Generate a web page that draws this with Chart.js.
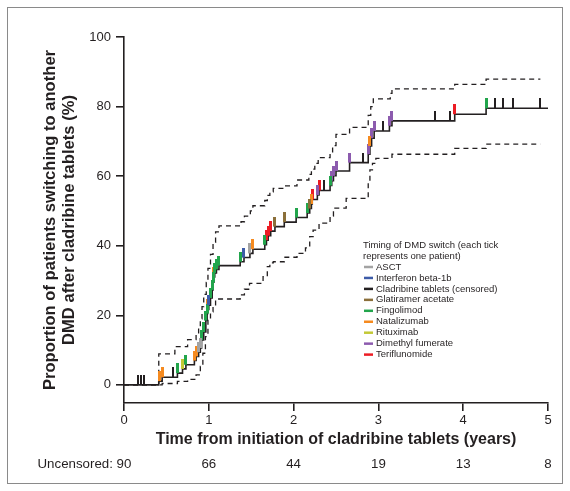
<!DOCTYPE html>
<html lang="en">
<head>
    <meta charset="UTF-8">
    <title>Switching DMD after cladribine tablets</title>
    <script src="https://cdn.jsdelivr.net/npm/chart.js@4.4.0/dist/chart.umd.min.js"></script>
    <style>
        html, body { margin: 0; padding: 0; background: #fff; }
        #wrap { width: 570px; height: 491px; }
    </style>
</head>
<body>
    <div id="wrap"><canvas id="kmChart" width="570" height="491"></canvas></div>

    <script>
        // Kaplan-Meier curve (time in years, cumulative % switched)
        const kmTimes  = [0, 0.41, 0.45, 0.63, 0.69, 0.73, 0.83, 0.85, 0.88, 0.90, 0.915, 0.94, 0.965, 0.98, 0.985, 1.00, 1.02, 1.04, 1.05, 1.06, 1.07, 1.09, 1.12, 1.37, 1.415, 1.485, 1.52, 1.66, 1.68, 1.70, 1.73, 1.78, 1.89, 2.03, 2.16, 2.19, 2.21, 2.22, 2.28, 2.30, 2.43, 2.45, 2.47, 2.50, 2.66, 2.88, 2.90, 2.92, 2.95, 3.13, 3.16, 3.90, 4.27, 5.0];
        const kmValues = [0, 1.1, 2.2, 3.4, 4.6, 5.8, 7.0, 8.2, 9.4, 10.6, 12.9, 15.2, 18.5, 20.5, 21.7, 22.9, 25.0, 27.3, 29.5, 31.0, 32.2, 33.2, 34.3, 35.4, 36.6, 37.8, 39.0, 40.3, 41.6, 42.9, 44.2, 45.5, 46.8, 48.1, 49.4, 50.7, 52.0, 53.3, 54.6, 55.9, 57.3, 58.7, 60.1, 61.5, 63.9, 66.3, 68.7, 70.9, 73.0, 74.5, 75.9, 77.8, 79.5, 79.5];

        // 95% confidence band
        const upperTimes  = [0, 0.41, 0.60, 0.75, 0.85, 0.88, 0.90, 0.92, 0.94, 0.97, 0.99, 1.02, 1.05, 1.08, 1.12, 1.38, 1.42, 1.49, 1.52, 1.66, 1.69, 1.72, 1.76, 1.89, 2.04, 2.18, 2.21, 2.25, 2.29, 2.43, 2.46, 2.50, 2.66, 2.88, 2.91, 2.94, 3.14, 3.16, 3.90, 4.27, 4.91];
        const upperValues = [0, 8.9, 11.0, 13.0, 14.5, 16.5, 19.0, 22.5, 26.0, 29.5, 33.5, 37.5, 41.0, 44.0, 45.7, 46.9, 48.5, 50.0, 51.5, 53.0, 54.5, 55.5, 56.5, 57.2, 58.9, 60.5, 62.0, 63.7, 65.3, 66.6, 68.8, 72.0, 74.0, 77.5, 80.0, 82.2, 83.8, 85.1, 86.4, 87.9, 87.9];
        const lowerTimes  = [0, 0.45, 0.63, 0.75, 0.85, 0.90, 0.93, 0.96, 0.99, 1.02, 1.05, 1.08, 1.37, 1.42, 1.48, 1.64, 1.69, 1.72, 1.76, 1.89, 2.04, 2.14, 2.19, 2.23, 2.30, 2.43, 2.47, 2.62, 2.88, 2.90, 2.93, 2.97, 3.16, 3.90, 4.27, 4.91];
        const lowerValues = [0, 0.4, 1.0, 1.6, 2.9, 5.3, 9.1, 13.9, 18.7, 21.0, 22.5, 24.7, 25.9, 27.5, 29.2, 31.1, 34.0, 35.1, 35.4, 36.7, 37.8, 39.4, 42.6, 44.5, 46.5, 48.5, 50.8, 53.6, 58.0, 61.8, 63.7, 65.1, 66.3, 68.0, 69.2, 69.2];

        // Timing of each switch / censoring (years)
        const asctTimes          = [0.88, 0.90, 1.485];
        const interferonTimes    = [1.00, 1.415];
        const censoredTimes      = [0.17, 0.20, 0.24, 0.58, 2.36, 2.82, 3.05, 3.67, 3.84, 4.375, 4.47, 4.59, 4.91];
        const glatiramerTimes    = [1.78, 1.89, 2.19];
        const fingolimodTimes    = [0.63, 0.73, 0.915, 0.94, 0.965, 0.98, 1.02, 1.04, 1.05, 1.07, 1.09, 1.12, 1.37, 1.66, 2.03, 2.16, 2.43, 4.27];
        const natalizumabTimes   = [0.42, 0.45, 0.83, 0.85, 0.985, 1.06, 1.52, 2.21, 2.90];
        const rituximabTimes     = [0.69];
        const dimethylTimes      = [2.28, 2.45, 2.47, 2.50, 2.66, 2.88, 2.92, 2.95, 3.13, 3.16];
        const teriflunomideTimes = [1.68, 1.70, 1.73, 2.22, 2.30, 3.90];

        const categories = ['ASCT', 'Interferon beta-1b', 'Cladribine tablets (censored)', 'Glatiramer acetate', 'Fingolimod', 'Natalizumab', 'Rituximab', 'Dimethyl fumerate', 'Teriflunomide'];
        const categoryColors = ['#a3a3a3', '#3d5ca8', '#231f20', '#8b6f3a', '#22a54c', '#f58a1f', '#c3c936', '#8c5bae', '#ec1c24'];
        const categoryTimes = [asctTimes, interferonTimes, censoredTimes, glatiramerTimes, fingolimodTimes, natalizumabTimes, rituximabTimes, dimethylTimes, teriflunomideTimes];

        const xTicks = [0, 1, 2, 3, 4, 5];
        const yTicks = [0, 20, 40, 60, 80, 100];
        const uncensored = [90, 66, 44, 19, 13, 8];

        const legendTitle = ['Timing of DMD switch (each tick', 'represents one patient)'];
        const FONT = '"Liberation Sans", Arial, Helvetica, sans-serif';
        const INK = '#231f20';

        function toPoints(xs, ys) {
            return xs.map((x, i) => ({ x: x, y: ys[i] }));
        }

        // curve level at time t (step function)
        function levelAt(t) {
            let v = 0;
            for (let i = 0; i < kmTimes.length; i++) {
                if (kmTimes[i] <= t + 1e-9) v = kmValues[i];
            }
            return v;
        }

        // little vertical tick that sits on top of the point
        function makeTick(color, w) {
            const c = document.createElement('canvas');
            c.width = w;
            c.height = 20;
            const g = c.getContext('2d');
            g.fillStyle = color;
            g.fillRect(0, 0, w, 10);
            return c;
        }

        const tickSets = categories.map((name, i) => ({
            type: 'scatter',
            label: name,
            data: categoryTimes[i].map(t => ({ x: t, y: levelAt(t) })),
            pointStyle: makeTick(categoryColors[i], i === 2 ? 2 : 3),
            order: 0
        }));

        const framePlugin = {
            id: 'frame',
            beforeDraw(chart) {
                const ctx = chart.ctx;
                ctx.save();
                ctx.fillStyle = '#fff';
                ctx.fillRect(0, 0, chart.width, chart.height);
                ctx.strokeStyle = '#8a8a8a';
                ctx.lineWidth = 1;
                ctx.strokeRect(7.5, 7.5, 555, 476);
                ctx.restore();
            }
        };

        const extrasPlugin = {
            id: 'extras',
            afterDraw(chart) {
                const ctx = chart.ctx;
                const xs = chart.scales.x;
                const area = chart.chartArea;
                ctx.save();

                // uncensored numbers under the axis
                ctx.fillStyle = INK;
                ctx.font = '13.3px ' + FONT;
                ctx.textBaseline = 'middle';
                ctx.textAlign = 'center';
                const rowY = 464;
                xTicks.forEach((t, i) => {
                    ctx.fillText(String(uncensored[i]), xs.getPixelForValue(t), rowY);
                });
                ctx.textAlign = 'right';
                const half = ctx.measureText(String(uncensored[0])).width / 2;
                ctx.fillText('Uncensored: ', xs.getPixelForValue(xTicks[0]) - half, rowY);

                // legend inside the plot
                const lx = area.left + 239;
                let ly = area.top + 208;
                ctx.font = '9.5px ' + FONT;
                ctx.textAlign = 'left';
                ctx.fillStyle = INK;
                legendTitle.forEach(line => {
                    ctx.fillText(line, lx, ly);
                    ly += 11;
                });
                categories.forEach((name, i) => {
                    ctx.strokeStyle = categoryColors[i];
                    ctx.lineWidth = 2.5;
                    ctx.beginPath();
                    ctx.moveTo(lx + 1, ly);
                    ctx.lineTo(lx + 10, ly);
                    ctx.stroke();
                    ctx.fillStyle = INK;
                    ctx.fillText(name, lx + 13, ly);
                    ly += 10.95;
                });
                ctx.restore();
            }
        };

        const chart = new Chart(document.getElementById('kmChart').getContext('2d'), {
            type: 'scatter',
            data: {
                datasets: [
                    ...tickSets,
                    {
                        type: 'line',
                        label: 'KM',
                        data: toPoints(kmTimes, kmValues),
                        borderColor: INK,
                        borderWidth: 1.6,
                        stepped: true,
                        pointRadius: 0,
                        fill: false,
                        order: 1
                    },
                    {
                        type: 'line',
                        label: 'Upper CI',
                        data: toPoints(upperTimes, upperValues),
                        borderColor: INK,
                        borderWidth: 1.3,
                        borderDash: [5, 4],
                        stepped: true,
                        pointRadius: 0,
                        fill: false,
                        order: 2
                    },
                    {
                        type: 'line',
                        label: 'Lower CI',
                        data: toPoints(lowerTimes, lowerValues),
                        borderColor: INK,
                        borderWidth: 1.3,
                        borderDash: [5, 4],
                        stepped: true,
                        pointRadius: 0,
                        fill: false,
                        order: 2
                    }
                ]
            },
            options: {
                responsive: false,
                animation: false,
                events: [],
                layout: { padding: { left: 0, right: 22, top: 37, bottom: 0 } },
                plugins: {
                    legend: { display: false },
                    tooltip: { enabled: false }
                },
                scales: {
                    x: {
                        type: 'linear',
                        min: 0,
                        max: 5,
                        afterFit: s => { s.height = 88; },
                        afterBuildTicks: s => { s.ticks = xTicks.map(v => ({ value: v })); },
                        border: { display: true, color: INK, width: 1.6 },
                        grid: { drawOnChartArea: false, drawTicks: true, tickLength: 8, color: INK, lineWidth: 1.6 },
                        ticks: { color: INK, padding: 2, maxRotation: 0, font: { family: FONT, size: 13 } },
                        title: {
                            display: true,
                            text: 'Time from initiation of cladribine tablets (years)',
                            color: INK,
                            font: { family: FONT, size: 16, weight: 'bold' },
                            padding: { top: 0, bottom: 42 }
                        }
                    },
                    y: {
                        type: 'linear',
                        min: -5.2,
                        max: 100,
                        afterFit: s => { s.width = 124; },
                        afterBuildTicks: s => { s.ticks = yTicks.map(v => ({ value: v })); },
                        border: { display: true, color: INK, width: 1.6 },
                        grid: { drawOnChartArea: false, drawTicks: true, tickLength: 8, color: INK, lineWidth: 1.6 },
                        ticks: { color: INK, padding: 5, font: { family: FONT, size: 13 } },
                        title: {
                            display: true,
                            text: ['Proportion of patients switching to another', 'DMD after cladribine tablets (%)'],
                            color: INK,
                            font: { family: FONT, size: 16.6, weight: 'bold', lineHeight: 1.2 },
                            padding: { top: 40, bottom: 0 }
                        }
                    }
                }
            },
            plugins: [framePlugin, extrasPlugin]
        });
    </script>
</body>
</html>
